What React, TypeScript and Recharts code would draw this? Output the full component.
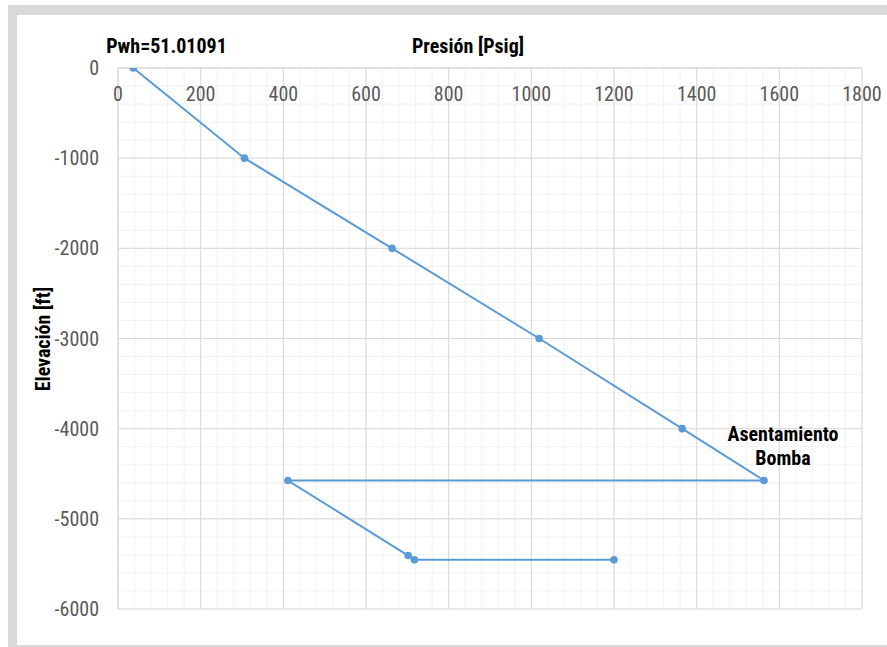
import React from "react";
import { ScatterChart, Scatter, XAxis, YAxis, CartesianGrid } from "recharts";

const pressure = [37, 306, 663, 1019, 1365, 1563, 411, 702, 717, 1200];
const elevation = [0, -1000, -2000, -3000, -4000, -4575, -4575, -5407, -5455, -5455];
const xTicks = [0, 200, 400, 600, 800, 1000, 1200, 1400, 1600, 1800];
const yTicks = [0, -1000, -2000, -3000, -4000, -5000, -6000];
const xMinor = Array.from({ length: 46 }, (_, i) => i * 40);
const yMinor = Array.from({ length: 31 }, (_, i) => -i * 200);

const xTitle = "Presión [Psig]";
const yTitle = "Elevación [ft]";
const pwhLabel = "Pwh=51.01091";
const pumpLabel = ["Asentamiento", "Bomba"];

const data = pressure.map((p, i) => ({ p, e: elevation[i] }));

const FONT = "'Liberation Sans Narrow', 'Arial Narrow', 'Roboto Condensed', 'DejaVu Sans Condensed', sans-serif";
const BLUE = "#5B9BD5";
const W = 887;
const H = 647;
const X_MAX = 1800;
const Y_MIN = -6000;

const XTick = (props: any) => {
  const { x, y, payload } = props;
  return (
    <text x={x} y={y} dy={32.5} textAnchor="middle" fill="#595959" fontSize={20} fontFamily={FONT}>
      {payload.value}
    </text>
  );
};

const Dot = (props: any) => {
  const { cx, cy } = props;
  return <circle cx={cx} cy={cy} r={3.8} fill={BLUE} />;
};

const vGen = (args: any) => {
  const { xAxis, offset } = args;
  const s = xAxis && typeof xAxis.scale === "function" ? xAxis.scale : null;
  if (s) return xMinor.map((v) => s(v));
  return xMinor.map((v) => offset.left + (v / X_MAX) * offset.width);
};
const hGen = (args: any) => {
  const { yAxis, offset } = args;
  const s = yAxis && typeof yAxis.scale === "function" ? yAxis.scale : null;
  if (s) return yMinor.map((v) => s(v));
  return yMinor.map((v) => offset.top + (v / Y_MIN) * offset.height);
};

export default function App() {
  return (
    <div style={{ position: "absolute", left: 0, top: 0, width: W, height: H, background: "#fff", overflow: "hidden" }}>
      <div style={{ position: "absolute", left: 8, top: 5, width: W - 8, height: H - 5, background: "#d9d9d9" }} />
      <div style={{ position: "absolute", left: 17, top: 15, width: W - 17, height: H - 15 - 2, background: "#fff" }} />
      <div style={{ position: "absolute", left: 0, top: 0 }}>
        <ScatterChart width={W} height={H} margin={{ top: 38, right: 25, bottom: 38, left: 18 }}>
          <CartesianGrid stroke="#f2f2f2" strokeWidth={1} verticalCoordinatesGenerator={vGen} horizontalCoordinatesGenerator={hGen} />
          <CartesianGrid stroke="#d9d9d9" strokeWidth={1} />
          <XAxis
            type="number"
            dataKey="p"
            orientation="top"
            height={30}
            domain={[0, X_MAX]}
            ticks={xTicks}
            allowDataOverflow
            tickLine={false}
            tickSize={0}
            tickMargin={0}
            axisLine={{ stroke: "#d9d9d9" }}
            tick={<XTick />}
            interval={0}
          />
          <YAxis
            type="number"
            dataKey="e"
            width={100}
            domain={[Y_MIN, 0]}
            ticks={yTicks}
            allowDataOverflow
            tickLine={false}
            tickSize={0}
            tickMargin={19}
            axisLine={{ stroke: "#d9d9d9" }}
            tick={{ fill: "#595959", fontSize: 20, fontFamily: FONT }}
            interval={0}
          />
          <Scatter
            data={data}
            line={{ stroke: BLUE, strokeWidth: 2 }}
            lineType="joint"
            fill={BLUE}
            shape={<Dot />}
            isAnimationActive={false}
          />
        </ScatterChart>
      </div>
      <svg width={W} height={H} style={{ position: "absolute", left: 0, top: 0, pointerEvents: "none" }}>
        <g fontFamily={FONT} fontWeight="bold" fontSize={20} fill="#000">
          <text x={166.5} y={53} textAnchor="middle">{pwhLabel}</text>
          <text x={468} y={53} textAnchor="middle">{xTitle}</text>
          <text x={42.7} y={339} textAnchor="middle" dominantBaseline="central" transform="rotate(-90 42.7 339)">{yTitle}</text>
          <text x={783} y={441} textAnchor="middle">{pumpLabel[0]}</text>
          <text x={783} y={465} textAnchor="middle">{pumpLabel[1]}</text>
        </g>
      </svg>
    </div>
  );
}
